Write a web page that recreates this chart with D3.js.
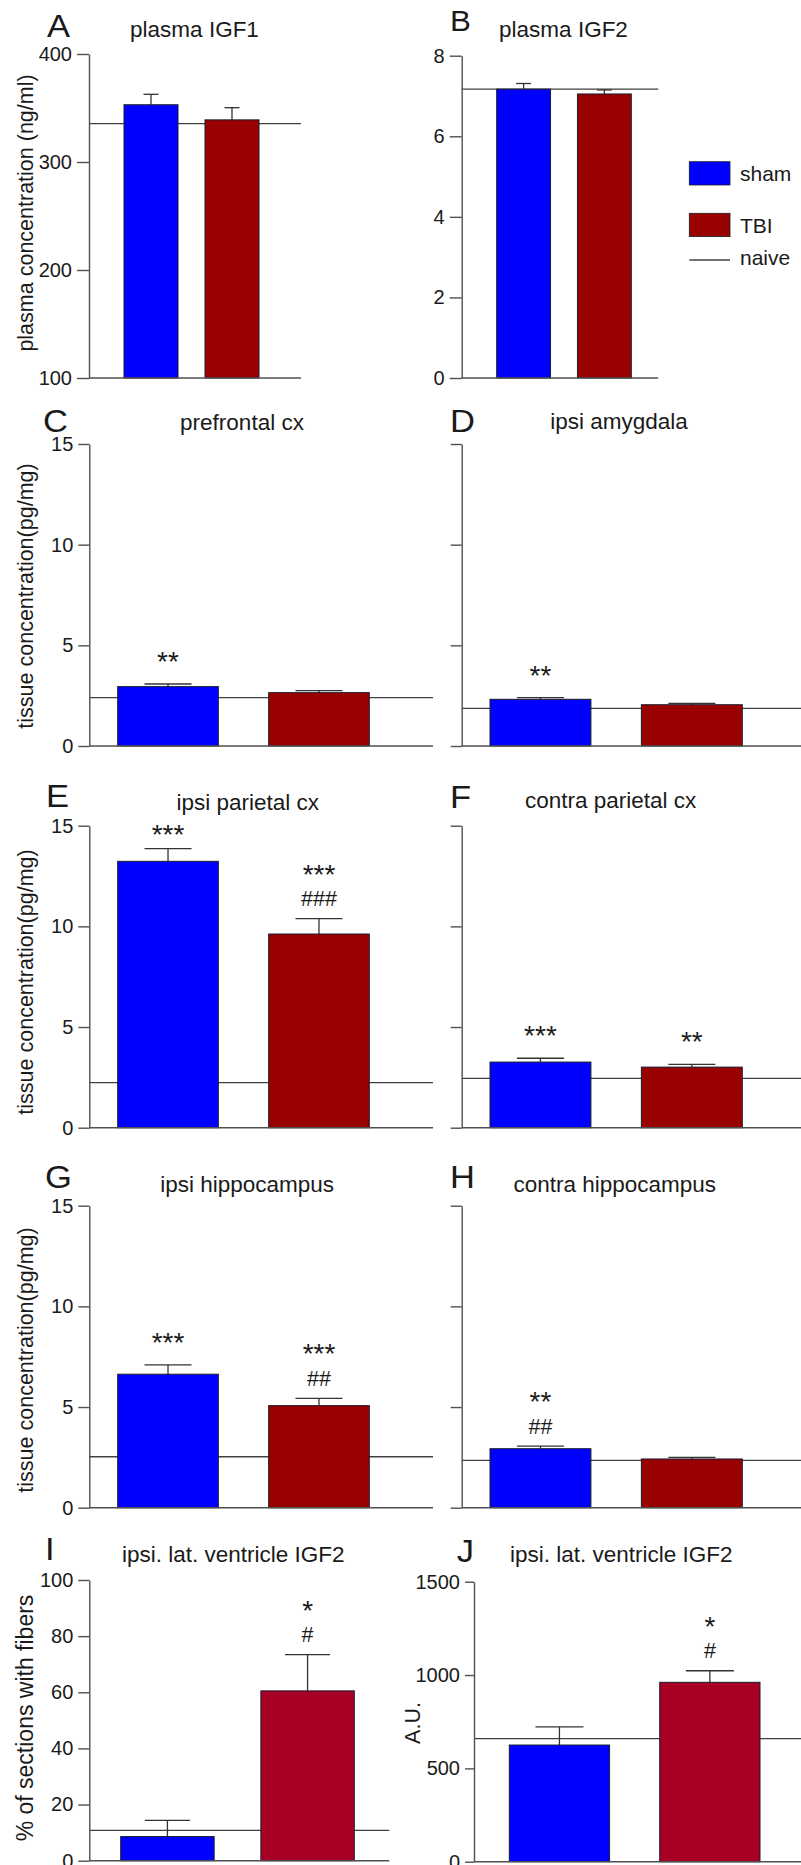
<!DOCTYPE html>
<html><head><meta charset="utf-8">
<script src="https://cdn.jsdelivr.net/npm/d3@7"></script>
<style>
body{margin:0;background:#fff}
svg{display:block}
text{font-family:"Liberation Sans",Arial,Helvetica,sans-serif;fill:#1a1a1a}
</style>
</head><body><svg id="chart" width="801" height="1865"></svg>
<script>
// ---------------- data ----------------
const groups = ["sham", "TBI"];
const panelIds = ["A","B","C","D","E","F","G","H","I","J"];
const titles = ["plasma IGF1","plasma IGF2","prefrontal cx","ipsi amygdala","ipsi parietal cx",
  "contra parietal cx","ipsi hippocampus","contra hippocampus","ipsi. lat. ventricle IGF2","ipsi. lat. ventricle IGF2"];
const shamMean = [353, 7.17, 2.95, 2.32, 13.23, 3.26, 6.63, 2.93, 8.6, 625];
const shamSem  = [9.7, 0.14, 0.13, 0.08, 0.63, 0.19, 0.46, 0.13, 5.8, 97];
const tbiMean  = [339, 7.05, 2.65, 2.05, 9.62, 3.01, 5.07, 2.42, 60.5, 961];
const tbiSem   = [11.3, 0.10, 0.10, 0.07, 0.76, 0.14, 0.36, 0.08, 12.9, 62];
const naiveMean = [335.5, 7.17, 2.4, 1.87, 2.24, 2.45, 2.53, 2.35, 10.8, 659];
const yDomains = [[100,400],[0,8],[0,15],[0,15],[0,15],[0,15],[0,15],[0,15],[0,100],[0,1500]];
const yTicks = [[100,200,300,400],[0,2,4,6,8],[0,5,10,15],[0,5,10,15],[0,5,10,15],[0,5,10,15],
  [0,5,10,15],[0,5,10,15],[0,20,40,60,80,100],[0,500,1000,1500]];
const showTickLabels = [true,true,true,false,true,false,true,false,true,true];
const yLabels = ["plasma concentration (ng/ml)","","tissue concentration(pg/mg)","","tissue concentration(pg/mg)","",
  "tissue concentration(pg/mg)","","% of sections with fibers","A.U."];
// significance marks, listed top line first
const shamMarks = [[],[],["**"],["**"],["***"],["***"],["***"],["**","##"],[],[]];
const tbiMarks  = [[],[],[],[],["***","###"],["**"],["***","##"],[],["*","#"],["*","#"]];
const legendLabels = ["sham","TBI","naive"];

// ---------------- layout & style ----------------
const colorsAH = {sham:"#0000ff", TBI:"#990000"};
const colorsIJ = {sham:"#0000ff", TBI:"#a80024"};
const layout = [
  {axisX:89,    xEnd:301,   yTop:54,     yBot:378,    bars:[124,259],      cap:15, tick:12, letter:[47,37,32],   title:[194.5,37.3], ylab:[33,213]},
  {axisX:461.7, xEnd:658.3, yTop:55.7,   yBot:378,    bars:[496.7,631.3],  cap:15, tick:12, letter:[450,31,29],  title:[563.5,36.7]},
  {axisX:89.3,  xEnd:433,   yTop:444,    yBot:746,    bars:[117.7,369.3],  cap:47, tick:11, letter:[43,431.7,32], title:[242,430],   ylab:[33,596]},
  {axisX:461.7, xEnd:805,   yTop:444,    yBot:746,    bars:[490,742.3],    cap:47, tick:11, letter:[450,431.7,32], title:[619,429]},
  {axisX:89.3,  xEnd:433,   yTop:825.7,  yBot:1127.7, bars:[117.7,369.3],  cap:47, tick:11, letter:[46,806.7,32], title:[247.8,810], ylab:[33,982]},
  {axisX:461.7, xEnd:805,   yTop:825.7,  yBot:1127.7, bars:[490,742.3],    cap:47, tick:11, letter:[450,808,32],  title:[610.7,808]},
  {axisX:89.3,  xEnd:433,   yTop:1205.7, yBot:1507.7, bars:[117.7,369.3],  cap:47, tick:11, letter:[45,1188.3,32], title:[247.2,1191.7], ylab:[33,1360]},
  {axisX:461.7, xEnd:805,   yTop:1205.7, yBot:1507.7, bars:[490,742.3],    cap:47, tick:11, letter:[450,1188.3,32], title:[614.7,1191.7]},
  {axisX:89.3,  xEnd:389.3, yTop:1580,   yBot:1860.7, bars:[120.7,354.3],  cap:45, tick:11, letter:[45,1560,32], title:[233.3,1561.7], ylab:[33,1718], ylabSize:23},
  {axisX:474,   xEnd:805,   yTop:1581.7, yBot:1861.7, bars:[509.3,760],    cap:48, tick:9,  letter:[456.7,1561.7,32], title:[621.3,1561.7], ylab:[420,1723]}
];
const axisColor = "#505050";

const svg = d3.select("#chart");

panelIds.forEach((id, i) => {
  const L = layout[i];
  const g = svg.append("g");
  const colors = i >= 8 ? colorsIJ : colorsAH;
  const y = d3.scaleLinear().domain(yDomains[i]).range([L.yBot, L.yTop]);
  const x = d3.scaleBand().domain(groups).range(L.bars).paddingInner(1/3).paddingOuter(0);
  const rows = [
    {grp:"sham", mean:shamMean[i], sem:shamSem[i], marks:shamMarks[i]},
    {grp:"TBI",  mean:tbiMean[i],  sem:tbiSem[i],  marks:tbiMarks[i]}
  ];

  // naive reference line
  g.append("line")
    .attr("x1", L.axisX).attr("x2", L.xEnd)
    .attr("y1", y(naiveMean[i])).attr("y2", y(naiveMean[i]))
    .attr("stroke", "#404040").attr("stroke-width", 1.3);

  // error bars (upper only)
  rows.forEach(r => {
    const cx = x(r.grp) + x.bandwidth()/2;
    g.append("line").attr("x1", cx).attr("x2", cx)
      .attr("y1", y(r.mean)).attr("y2", y(r.mean + r.sem))
      .attr("stroke", "#333").attr("stroke-width", 1.3);
    g.append("line").attr("x1", cx - L.cap/2).attr("x2", cx + L.cap/2)
      .attr("y1", y(r.mean + r.sem)).attr("y2", y(r.mean + r.sem))
      .attr("stroke", "#333").attr("stroke-width", 1.3);
  });

  // bars
  g.selectAll("rect.bar").data(rows).enter().append("rect")
    .attr("class", "bar")
    .attr("x", d => x(d.grp))
    .attr("width", x.bandwidth())
    .attr("y", d => y(d.mean))
    .attr("height", d => y(yDomains[i][0]) - y(d.mean))
    .attr("fill", d => colors[d.grp])
    .attr("stroke", "#1c1c2a").attr("stroke-width", 1);

  // significance marks
  rows.forEach(r => {
    const cx = x(r.grp) + x.bandwidth()/2;
    const top = y(r.mean + r.sem);
    const lines = r.marks.slice().reverse(); // bottom first
    let center = null;
    lines.forEach((t, k) => {
      const isStar = t[0] === "*";
      if (k === 0) center = Math.max(top - (isStar ? 29 : 20), L.yTop + 2);
      else center -= 31;
      const fs = isStar ? 28 : 21.5;
      const base = center + (isStar ? 0.57 * fs : 0.36 * fs);
      g.append("text").attr("x", cx).attr("y", base)
        .attr("text-anchor", "middle").attr("font-size", fs).text(t);
    });
  });

  // y axis
  const ax = d3.axisLeft(y).tickValues(yTicks[i]).tickSizeInner(L.tick).tickSizeOuter(0)
    .tickPadding(5).tickFormat(showTickLabels[i] ? d3.format("d") : () => "");
  const ag = g.append("g").attr("transform", `translate(${L.axisX},0)`).call(ax);
  ag.select(".domain").attr("stroke", axisColor).attr("stroke-width", 1.4);
  ag.selectAll(".tick line").attr("stroke", axisColor).attr("stroke-width", 1.4);
  ag.selectAll(".tick text").attr("font-size", 20).attr("fill", "#1a1a1a")
    .attr("font-family", '"Liberation Sans",Arial,sans-serif');

  // x baseline
  g.append("line").attr("x1", L.axisX).attr("x2", L.xEnd)
    .attr("y1", L.yBot).attr("y2", L.yBot)
    .attr("stroke", axisColor).attr("stroke-width", 1.4);

  // titles and letters
  g.append("text").attr("x", L.title[0]).attr("y", L.title[1])
    .attr("text-anchor", "middle").attr("font-size", 22.5).text(titles[i]);
  g.append("text").attr("transform", `translate(${L.letter[0]},${L.letter[1]}) scale(1.08,1)`)
    .attr("font-size", L.letter[2]).text(id);

  if (yLabels[i] && L.ylab) {
    g.append("text")
      .attr("transform", `translate(${L.ylab[0]},${L.ylab[1]}) rotate(-90)`)
      .attr("text-anchor", "middle").attr("font-size", L.ylabSize || 21.5).text(yLabels[i]);
  }
});

// legend
const legendColors = [colorsAH.sham, colorsAH.TBI];
const lg = svg.append("g");
const legY = [161.7, 213.3];
legendLabels.forEach((lab, k) => {
  if (k < 2) {
    lg.append("rect").attr("x", 689.3).attr("y", legY[k]).attr("width", 40.7).attr("height", 23.3)
      .attr("fill", legendColors[k]).attr("stroke", "#1c1c2a").attr("stroke-width", 0.8);
  } else {
    lg.append("line").attr("x1", 689.3).attr("x2", 730).attr("y1", 260).attr("y2", 260)
      .attr("stroke", "#404040").attr("stroke-width", 1.3);
  }
  lg.append("text").attr("x", 740).attr("y", [180.5, 233.3, 265][k])
    .attr("font-size", 21).text(lab);
});
</script>
</body></html>
